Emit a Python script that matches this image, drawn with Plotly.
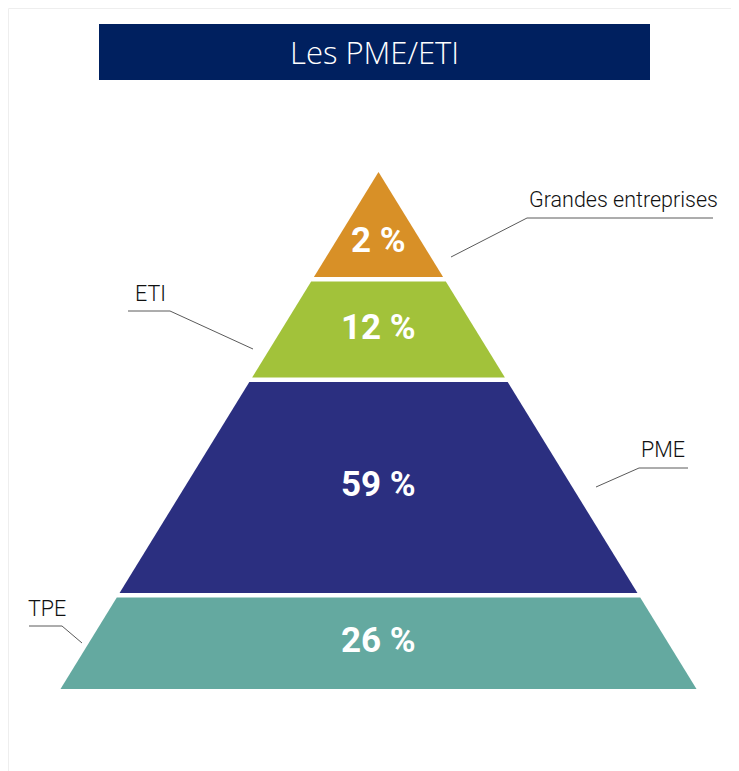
import plotly.graph_objects as go

# ---- data ----
categories = ["Grandes entreprises", "ETI", "PME", "TPE"]
shares = [2, 12, 59, 26]
share_labels = [f"{v} %" for v in shares]

# ---- style / layout constants (page pixel space) ----
W, H = 739, 771
OFF = 8  # page body margin
colors = ["#D89027", "#A2C23A", "#2B2F80", "#64A9A0"]
apex_x, apex_y = 378.5, 172
base_y, base_half = 689, 318
layer_tops = [172, 281.5, 382, 597.5]
layer_bottoms = [277, 377.5, 593, 689]
label_y = [240, 327, 484, 640]

callouts = [
    {"pts": [(451, 257), (527, 218), (713, 218)], "tx": 527, "ty": 199},
    {"pts": [(253, 349), (170, 311), (128, 311)], "tx": 133, "ty": 293},
    {"pts": [(596, 487), (639, 468), (688, 468)], "tx": 639, "ty": 449},
    {"pts": [(82, 643), (62, 626), (29, 626)], "tx": 26, "ty": 608},
]

def half_width(y):
    return base_half * (y - apex_y) / (base_y - apex_y)

fig = go.Figure()

for i, cat in enumerate(categories):
    t, b = layer_tops[i], layer_bottoms[i]
    ht, hb = half_width(t), half_width(b)
    xs = [apex_x - ht, apex_x + ht, apex_x + hb, apex_x - hb, apex_x - ht]
    ys = [t, t, b, b, t]
    fig.add_trace(go.Scatter(
        x=xs, y=ys, mode="lines", fill="toself", fillcolor=colors[i],
        line=dict(width=0, color=colors[i]), name=cat, hoverinfo="skip",
        showlegend=False,
    ))
    fig.add_annotation(
        x=apex_x, y=label_y[i], text=share_labels[i], showarrow=False,
        xanchor="center", yanchor="middle",
        font=dict(family="Roboto", size=35, color="white", weight=700),
    )

shapes = []
shapes.append(dict(type="rect", xref="x", yref="y", x0=8.5, y0=8.5, x1=W + 20, y1=H + 20,
                   line=dict(color="#EEEEEE", width=1), fillcolor="rgba(0,0,0,0)", layer="below"))
shapes.append(dict(type="rect", xref="x", yref="y", x0=99, y0=24, x1=650, y1=80,
                   line=dict(width=0), fillcolor="#00205F", layer="below"))

for i, c in enumerate(callouts):
    path = "M " + " L ".join(f"{x},{y}" for x, y in c["pts"])
    shapes.append(dict(type="path", xref="x", yref="y", path=path,
                       line=dict(color="#5A5A5A", width=1)))
    fig.add_annotation(
        x=c["tx"], y=c["ty"], text=categories[i], showarrow=False,
        xanchor="left", yanchor="middle",
        font=dict(family="Roboto", size=21.5, color="#111111", weight=300),
    )

fig.add_annotation(
    x=374.5, y=52, text="Les PME/ETI", showarrow=False, xanchor="center", yanchor="middle",
    font=dict(family="Open Sans", size=31, color="white", weight=300),
)

fig.update_layout(
    width=W, height=H, margin=dict(l=0, r=0, t=0, b=0),
    paper_bgcolor="white", plot_bgcolor="white", shapes=shapes,
    xaxis=dict(range=[OFF, W + OFF], visible=False, fixedrange=True),
    yaxis=dict(range=[H + OFF, OFF], visible=False, fixedrange=True),
    showlegend=False,
)

fig.write_html("out.html")
